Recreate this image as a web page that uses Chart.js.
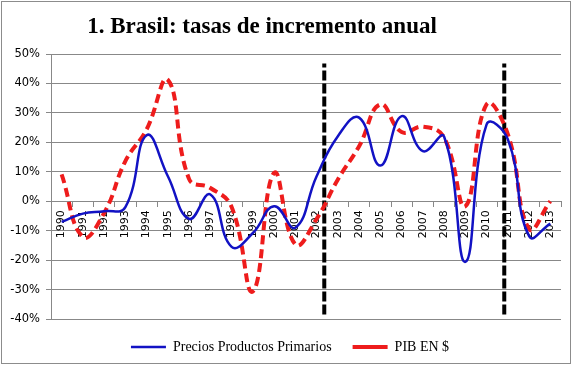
<!DOCTYPE html>
<html>
<head>
<meta charset="utf-8">
<script src="https://cdn.jsdelivr.net/npm/chart.js@4/dist/chart.umd.min.js"></script>
<style>
  html, body { margin: 0; padding: 0; background: #fff; }
  #wrap { position: relative; width: 576px; height: 366px; }
  #frame { position: absolute; left: 1px; top: 1px; width: 568px; height: 361px; border: 1px solid #8c8c8c; pointer-events: none; }
</style>
</head>
<body>
<div id="wrap">
  <canvas id="chart" width="576" height="366"></canvas>
  <div id="frame"></div>
</div>
<script>
let years = ['1990','1991','1992','1993','1994','1995','1996','1997','1998','1999','2000','2001',
             '2002','2003','2004','2005','2006','2007','2008','2009','2010','2011','2012','2013'];
let precios = [-7, -4.2, -3.4, -2, 22.4, 8.5, -6, 2.3, -15.5, -10.8, -1.7, -9,
               8.5, 22.1, 28.4, 12.1, 28.9, 17, 21.9, -20.6, 26.1, 21, -11.9, -7.6];
let pib = [9.1, -12.1, -4, 13.6, 24.4, 41.2, 7.5, 4.5, -2, -30.6, 9.6, -14.7,
           -6, 7.4, 18.7, 32.9, 23.5, 25.3, 21.6, -1.7, 32.9, 22.7, -9.4, 0];
// vertical markers, in category index units
let markerAt = [12.36, 20.83];
let markerRange = [-38.5, 46.8];
let titleText = '1. Brasil: tasas de incremento anual';

let markerSets = markerAt.map(m => ({
    type: 'line',
    label: 'marker',
    xAxisID: 'xv',
    data: [{x: m, y: markerRange[0]}, {x: m, y: markerRange[1]}],
    borderColor: '#000',
    borderWidth: 4,
    borderDash: [10, 3],
    pointRadius: 0,
    tension: 0
}));

let titlePlugin = {
    id: 'titleText',
    afterDraw(chart) {
        let ctx = chart.ctx;
        ctx.save();
        ctx.font = 'bold 23px "Liberation Serif"';
        ctx.fillStyle = '#000';
        ctx.textAlign = 'center';
        ctx.textBaseline = 'alphabetic';
        ctx.fillText(titleText, 262, 33);
        ctx.restore();
    }
};

let chart = new Chart(document.getElementById('chart').getContext('2d'), {
    type: 'line',
    data: {
        labels: years,
        datasets: [{
            label: 'Precios Productos Primarios',
            data: precios,
            borderColor: '#1212c4',
            backgroundColor: '#1212c4',
            borderWidth: 2.5,
            pointRadius: 0,
            tension: 0.45
        }, {
            label: 'PIB EN $',
            data: pib,
            borderColor: '#ee1c1c',
            backgroundColor: '#ee1c1c',
            borderWidth: 4,
            borderDash: [9, 5],
            pointRadius: 0,
            tension: 0.45
        }].concat(markerSets)
    },
    options: {
        responsive: false,
        animation: false,
        // right padding is negative so the legend centres at ~290; the empty y2 axis keeps the plot edge at 561
        layout: { padding: { left: 0, right: -4, top: 54, bottom: 2 } },
        plugins: {
            title: { display: false },
            tooltip: { enabled: false },
            legend: {
                position: 'bottom',
                labels: {
                    filter: item => item.text !== 'marker',
                    usePointStyle: true,
                    pointStyle: 'line',
                    pointStyleWidth: 35,
                    boxWidth: 35,
                    padding: 21,
                    color: '#000',
                    font: { family: 'Liberation Serif', size: 14 }
                }
            }
        },
        scales: {
            x: {
                type: 'category',
                position: { y: 0 },
                offset: true,
                grid: { display: true, drawOnChartArea: false, drawTicks: true, tickLength: 5, offset: true, color: '#888' },
                border: { color: '#888' },
                ticks: {
                    autoSkip: false,
                    minRotation: 90,
                    maxRotation: 90,
                    padding: 4,
                    color: '#000',
                    font: { family: 'DejaVu Sans', size: 11 }
                }
            },
            xv: {
                type: 'linear',
                min: -0.5,
                max: 23.5,
                display: false
            },
            y: {
                min: -40,
                max: 50,
                afterFit: s => { s.width = 51; },
                grid: { color: '#888', tickLength: 5 },
                border: { color: '#888' },
                ticks: {
                    stepSize: 10,
                    padding: 6,
                    color: '#000',
                    font: { family: 'DejaVu Sans', size: 11.5 },
                    callback: v => v + '%'
                }
            },
            y2: {
                position: 'right',
                min: -40,
                max: 50,
                afterFit: s => { s.width = 19; },
                grid: { display: false },
                border: { display: false },
                ticks: { display: false }
            }
        }
    },
    plugins: [titlePlugin]
});
</script>
</body>
</html>
